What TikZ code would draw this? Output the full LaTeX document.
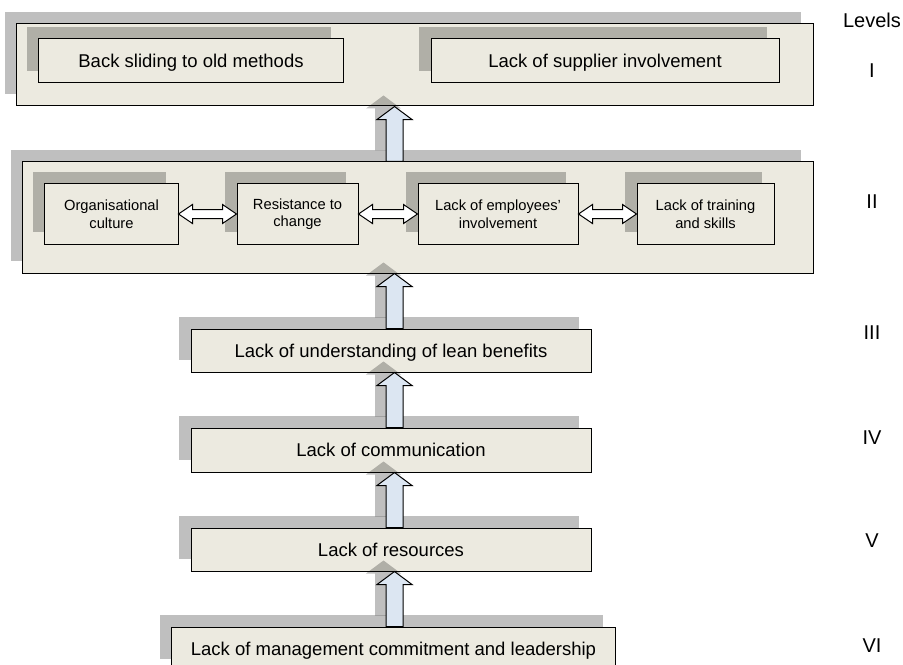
\documentclass[tikz,border=0pt]{standalone}
\usepackage{fontspec}
\setmainfont{Liberation Sans}
\usetikzlibrary{shadows,calc}
\definecolor{boxfill}{HTML}{ECEAE0}
\definecolor{arrfill}{HTML}{DCE6F2}
\tikzset{
  shad/.style={general shadow={fill=black, fill opacity=0.25, shadow xshift=-12bp, shadow yshift=12bp}},
  boxbase/.style={draw=black, line width=1bp, fill=boxfill, shad, inner sep=0pt, align=center},
  outerbox/.style={boxbase},
  bigbox/.style={boxbase, font=\fontsize{18.5bp}{22bp}\selectfont, text height=13.3bp, text depth=0pt},
  smallbox/.style={boxbase, font=\fontsize{14.7bp}{17.5bp}\selectfont},
  lvl/.style={font=\fontsize{20bp}{24bp}\selectfont, inner sep=0pt, text height=14.3bp, text depth=0pt},
  arrbody/.style={draw=black, line width=1bp, fill=arrfill},
  arrshadow/.style={fill=black, fill opacity=0.25},
  dblbody/.style={draw=black, line width=1bp, fill=white}
}
\newcommand\blockup[3]{%
  \path[#3] let \p1=(ax |- #1.north), \p2=(ax |- #2.south) in
  (\x1-8.5bp,\y1) -- (\x2-8.5bp,\y2-13bp) -- (\x2-17.5bp,\y2-13bp) -- (\x2,\y2)
  -- (\x2+17.5bp,\y2-13bp) -- (\x2+8.5bp,\y2-13bp) -- (\x1+8.5bp,\y1) -- cycle;}
\newcommand\dblarr[2]{%
  \path[dblbody] let \p1=(#1.east), \p2=(#2.west) in
  (\x1,\y1) -- (\x1+14bp,\y1+9.5bp) -- (\x1+14bp,\y1+4.5bp) -- (\x2-14bp,\y1+4.5bp)
  -- (\x2-14bp,\y1+9.5bp) -- (\x2,\y1) -- (\x2-14bp,\y1-9.5bp) -- (\x2-14bp,\y1-4.5bp)
  -- (\x1+14bp,\y1-4.5bp) -- (\x1+14bp,\y1-9.5bp) -- cycle;}
\begin{document}
\begin{tikzpicture}[x=1bp,y=-1bp]
\clip (0,0) rectangle (903,665);
\coordinate (ax) at (394.5,0);
% Level I
\node[outerbox, minimum width=796bp, minimum height=82bp] (L1) at (415,65) {};
\node[bigbox, minimum width=304bp, minimum height=44bp] (back) at (191,61) {Back sliding to old methods};
\node[bigbox, minimum width=348bp, minimum height=44bp] (supp) at (605,61) {Lack of supplier involvement};
% Level II
\node[outerbox, minimum width=790bp, minimum height=111bp] (L2) at (418,217.5) {};
\node[smallbox, minimum width=133bp, minimum height=60bp] (org) at (111.5,214) {Organisational\\culture};
\node[smallbox, minimum width=121bp, minimum height=60bp] (res) at (297.5,214) {Resistance to\\change};
\node[smallbox, minimum width=160bp, minimum height=60bp] (emp) at (498,214) {Lack of employees'\\involvement};
\node[smallbox, minimum width=137bp, minimum height=60bp] (trn) at (705.5,214) {Lack of training\\and skills};
% Levels III-VI
\node[bigbox, minimum width=400bp, minimum height=43bp] (L3) at (391,350.5) {Lack of understanding of lean benefits};
\node[bigbox, minimum width=400bp, minimum height=44bp] (L4) at (391,450) {Lack of communication};
\node[bigbox, minimum width=400bp, minimum height=43bp] (L5) at (391,549.5) {Lack of resources};
\node[bigbox, minimum width=443bp, minimum height=44bp] (L6) at (393.5,649) {Lack of management commitment and leadership};
% double arrows
\dblarr{org}{res}
\dblarr{res}{emp}
\dblarr{emp}{trn}
% block arrows: shadows
\begin{scope}[transform canvas={xshift=-11bp,yshift=11bp}]
\blockup{L2}{L1}{arrshadow}
\blockup{L3}{L2}{arrshadow}
\blockup{L4}{L3}{arrshadow}
\blockup{L5}{L4}{arrshadow}
\blockup{L6}{L5}{arrshadow}
\end{scope}
\blockup{L2}{L1}{arrbody}
\blockup{L3}{L2}{arrbody}
\blockup{L4}{L3}{arrbody}
\blockup{L5}{L4}{arrbody}
\blockup{L6}{L5}{arrbody}
% level labels
\node[lvl] (lvls) at (872,20) {Levels};
\node[lvl] (lv1) at (872,70) {I};
\node[lvl] (lv2) at (872,201) {II};
\node[lvl] (lv3) at (872,332) {III};
\node[lvl] (lv4) at (872,437) {IV};
\node[lvl] (lv5) at (872,540) {V};
\node[lvl] (lv6) at (872,645) {VI};
\end{tikzpicture}
\end{document}
